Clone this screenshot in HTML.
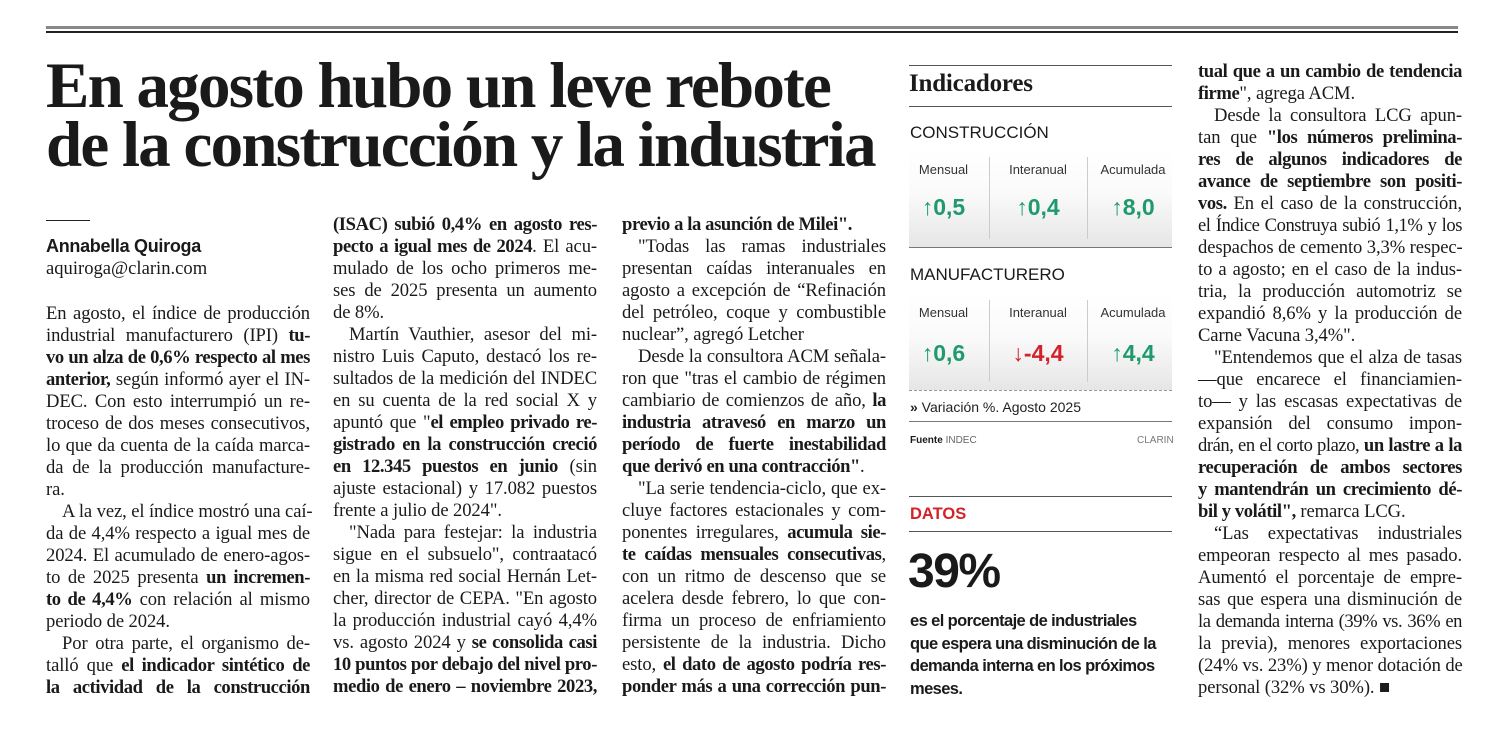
<!DOCTYPE html>
<html><head><meta charset="utf-8">
<style>
*{margin:0;padding:0;box-sizing:border-box}
body{width:1501px;height:755px;background:#fff;position:relative;overflow:hidden;color:#1a1a1a;font-family:"Liberation Serif",serif}
.a{position:absolute}
.col{position:absolute;width:264px;font-size:18.6px;line-height:22px;letter-spacing:-0.1px}
.col div{height:22px;white-space:nowrap;text-align:justify;text-align-last:justify;overflow:visible}
.col div.e{text-align-last:left}
.col div.i{padding-left:16px}
.col div.t{letter-spacing:-0.45px}
.col b{letter-spacing:-0.4px}
.sans{font-family:"Liberation Sans",sans-serif}
.cell{position:absolute;width:97px;text-align:center;font-family:"Liberation Sans",sans-serif}
.lab{font-size:13px;color:#333}
.val{font-size:23px;font-weight:bold;color:#1f9a6c}
</style></head><body>
<div class="a" style="left:46px;top:26px;width:1412px;height:3px;background:#888"></div>
<div class="a" style="left:46px;top:31px;width:1412px;height:2px;background:#222"></div>

<div class="a" style="left:46px;top:57px;font-size:65px;font-weight:bold;letter-spacing:-1.75px;line-height:59px;white-space:nowrap">En agosto hubo un leve rebote<br>de la construcción y la industria</div>

<div class="a" style="left:46px;top:220px;width:44px;height:1px;background:#222"></div>
<div class="a sans" style="left:46px;top:236px;font-size:18px;font-weight:bold;letter-spacing:-0.3px">Annabella Quiroga</div>
<div class="a" style="left:46px;top:258px;font-size:18.6px">aquiroga@clarin.com</div>

<div class="col" style="left:46px;top:303px">
<div>En agosto, el índice de producción</div>
<div>industrial manufacturero (IPI) <b>tu-</b></div>
<div><b>vo un alza de 0,6% respecto al mes</b></div>
<div><b>anterior,</b> según informó ayer el IN-</div>
<div>DEC. Con esto interrumpió un re-</div>
<div>troceso de dos meses consecutivos,</div>
<div>lo que da cuenta de la caída marca-</div>
<div>da de la producción manufacture-</div>
<div class="e">ra.</div>
<div class="i">A la vez, el índice mostró una caí-</div>
<div>da de 4,4% respecto a igual mes de</div>
<div>2024. El acumulado de enero-agos-</div>
<div>to de 2025 presenta <b>un incremen-</b></div>
<div><b>to de 4,4%</b> con relación al mismo</div>
<div class="e">periodo de 2024.</div>
<div class="i">Por otra parte, el organismo de-</div>
<div>talló que <b>el indicador sintético de</b></div>
<div><b>la actividad de la construcción</b></div>
</div>

<div class="col" style="left:333px;top:214px">
<div><b>(ISAC) subió 0,4% en agosto res-</b></div>
<div><b>pecto a igual mes de 2024</b>. El acu-</div>
<div>mulado de los ocho primeros me-</div>
<div>ses de 2025 presenta un aumento</div>
<div class="e">de 8%.</div>
<div class="i">Martín Vauthier, asesor del mi-</div>
<div>nistro Luis Caputo, destacó los re-</div>
<div>sultados de la medición del INDEC</div>
<div>en su cuenta de la red social X y</div>
<div>apuntó que "<b>el empleo privado re-</b></div>
<div><b>gistrado en la construcción creció</b></div>
<div><b>en 12.345 puestos en junio</b> (sin</div>
<div>ajuste estacional) y 17.082 puestos</div>
<div class="e">frente a julio de 2024".</div>
<div class="i">"Nada para festejar: la industria</div>
<div>sigue en el subsuelo", contraatacó</div>
<div>en la misma red social Hernán Let-</div>
<div>cher, director de CEPA. "En agosto</div>
<div>la producción industrial cayó 4,4%</div>
<div>vs. agosto 2024 y <b>se consolida casi</b></div>
<div><b>10 puntos por debajo del nivel pro-</b></div>
<div><b>medio de enero – noviembre 2023,</b></div>
</div>

<div class="col" style="left:622px;top:214px">
<div class="e"><b>previo a la asunción de Milei".</b></div>
<div class="i">"Todas las ramas industriales</div>
<div>presentan caídas interanuales en</div>
<div>agosto a excepción de “Refinación</div>
<div>del petróleo, coque y combustible</div>
<div class="e">nuclear”, agregó Letcher</div>
<div class="i">Desde la consultora ACM señala-</div>
<div>ron que "tras el cambio de régimen</div>
<div>cambiario de comienzos de año, <b>la</b></div>
<div><b>industria atravesó en marzo un</b></div>
<div><b>período de fuerte inestabilidad</b></div>
<div class="e"><b>que derivó en una contracción"</b>.</div>
<div class="i">"La serie tendencia-ciclo, que ex-</div>
<div>cluye factores estacionales y com-</div>
<div>ponentes irregulares, <b>acumula sie-</b></div>
<div><b>te caídas mensuales consecutivas</b>,</div>
<div>con un ritmo de descenso que se</div>
<div>acelera desde febrero, lo que con-</div>
<div>firma un proceso de enfriamiento</div>
<div>persistente de la industria. Dicho</div>
<div>esto, <b>el dato de agosto podría res-</b></div>
<div><b>ponder más a una corrección pun-</b></div>
</div>

<div class="col" style="left:1198px;top:61px">
<div><b>tual que a un cambio de tendencia</b></div>
<div class="e"><b>firme</b>", agrega ACM.</div>
<div class="i">Desde la consultora LCG apun-</div>
<div>tan que <b>"los números prelimina-</b></div>
<div><b>res de algunos indicadores de</b></div>
<div><b>avance de septiembre son positi-</b></div>
<div><b>vos.</b> En el caso de la construcción,</div>
<div class="t">el Índice Construya subió 1,1% y los</div>
<div>despachos de cemento 3,3% respec-</div>
<div>to a agosto; en el caso de la indus-</div>
<div>tria, la producción automotriz se</div>
<div>expandió 8,6% y la producción de</div>
<div class="e">Carne Vacuna 3,4%".</div>
<div class="i">"Entendemos que el alza de tasas</div>
<div>—que encarece el financiamien-</div>
<div>to— y las escasas expectativas de</div>
<div>expansión del consumo impon-</div>
<div class="t">drán, en el corto plazo, <b>un lastre a la</b></div>
<div><b>recuperación de ambos sectores</b></div>
<div><b>y mantendrán un crecimiento dé-</b></div>
<div class="e"><b>bil y volátil",</b> remarca LCG.</div>
<div class="i">“Las expectativas industriales</div>
<div>empeoran respecto al mes pasado.</div>
<div>Aumentó el porcentaje de empre-</div>
<div>sas que espera una disminución de</div>
<div class="t">la demanda interna (39% vs. 36% en</div>
<div>la previa), menores exportaciones</div>
<div>(24% vs. 23%) y menor dotación de</div>
<div class="e">personal (32% vs 30%). ■</div>
</div>

<!-- Indicadores box -->
<div class="a" style="left:909px;top:65px;width:263px;height:1px;background:#555"></div>
<div class="a" style="left:909px;top:70px;font-size:25px;font-weight:bold;letter-spacing:-0.2px">Indicadores</div>
<div class="a" style="left:909px;top:106px;width:263px;height:1px;background:#555"></div>
<div class="a sans" style="left:910px;top:123px;font-size:17px">CONSTRUCCIÓN</div>
<div class="a" style="left:909px;top:150px;width:263px;height:98px;background:linear-gradient(#fff 0%,#fafafa 45%,#e6e6e6 100%);border-bottom:1px solid #777"></div>
<div class="a" style="left:989px;top:157px;width:1px;height:82px;background:#ccc"></div>
<div class="a" style="left:1087px;top:157px;width:1px;height:82px;background:#ccc"></div>
<div class="cell lab" style="left:895px;top:162px;width:97px">Mensual</div>
<div class="cell lab" style="left:989px;top:162px;width:98px">Interanual</div>
<div class="cell lab" style="left:1084px;top:162px;width:98px">Acumulada</div>
<div class="cell val" style="left:895px;top:194px">↑0,5</div>
<div class="cell val" style="left:989px;top:194px;width:98px">↑0,4</div>
<div class="cell val" style="left:1084px;top:194px;width:98px">↑8,0</div>

<div class="a sans" style="left:910px;top:265px;font-size:17px">MANUFACTURERO</div>
<div class="a" style="left:909px;top:293px;width:263px;height:98px;background:linear-gradient(#fff 0%,#fafafa 45%,#e6e6e6 100%);border-bottom:1px dashed #999"></div>
<div class="a" style="left:989px;top:300px;width:1px;height:82px;background:#ccc"></div>
<div class="a" style="left:1087px;top:300px;width:1px;height:82px;background:#ccc"></div>
<div class="cell lab" style="left:895px;top:305px">Mensual</div>
<div class="cell lab" style="left:989px;top:305px;width:98px">Interanual</div>
<div class="cell lab" style="left:1084px;top:305px;width:98px">Acumulada</div>
<div class="cell val" style="left:895px;top:340px">↑0,6</div>
<div class="cell val" style="left:989px;top:340px;width:98px;color:#d2232a">↓-4,4</div>
<div class="cell val" style="left:1084px;top:340px;width:98px">↑4,4</div>
<div class="a sans" style="left:910px;top:399px;font-size:14px;color:#222"><b>»</b> Variación %. Agosto 2025</div>
<div class="a" style="left:909px;top:421px;width:263px;height:1px;background:#777"></div>
<div class="a sans" style="left:910px;top:435px;font-size:10px"><b>Fuente</b> <span style="color:#666">INDEC</span></div>
<div class="a sans" style="left:1137px;top:435px;font-size:10px;color:#777">CLARIN</div>

<!-- DATOS -->
<div class="a" style="left:909px;top:496px;width:263px;height:1px;background:#555"></div>
<div class="a sans" style="left:910px;top:505px;font-size:16.5px;font-weight:bold;color:#d2232a">DATOS</div>
<div class="a" style="left:909px;top:531px;width:263px;height:1px;background:#555"></div>
<div class="a sans" style="left:908px;top:544px;font-size:48px;font-weight:bold;letter-spacing:-1.5px">39%</div>
<div class="a sans" style="left:910px;top:610px;font-size:16.5px;font-weight:bold;line-height:22.5px;letter-spacing:-0.6px;white-space:nowrap">es el porcentaje de industriales<br>que espera una disminución de la<br>demanda interna en los próximos<br>meses.</div>
</body></html>
